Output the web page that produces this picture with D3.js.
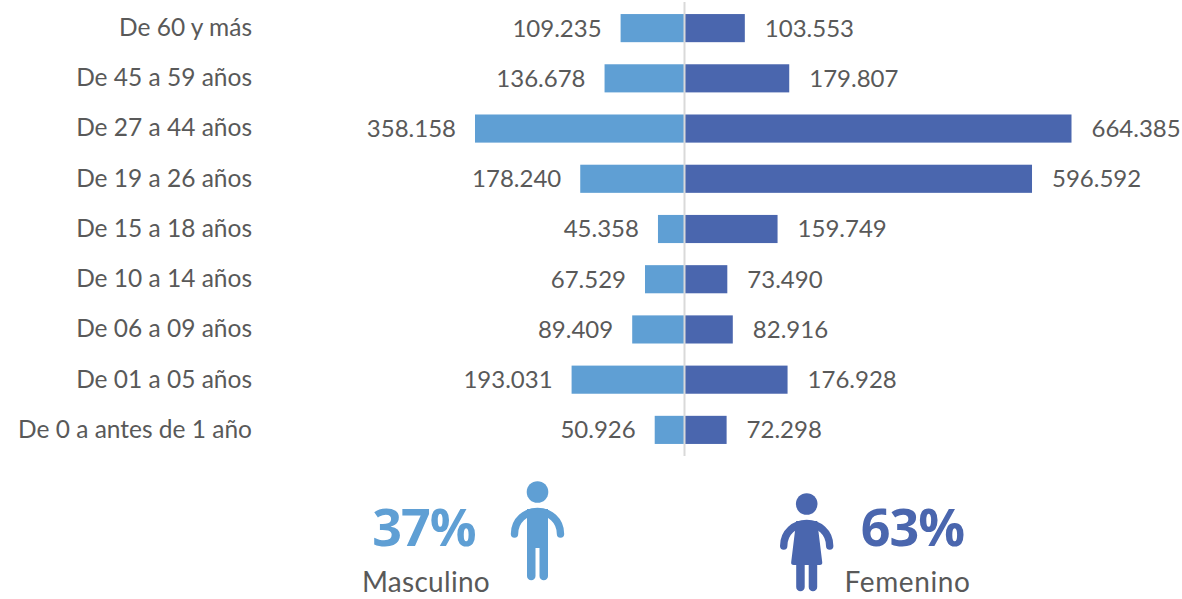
<!DOCTYPE html>
<html>
<head>
<meta charset="utf-8">
<script src="https://cdn.jsdelivr.net/npm/d3@7"></script>
<style>
  html, body { margin: 0; padding: 0; background: #fff; }
  svg { display: block; }
  text { font-family: Lato, sans-serif; }
</style>
</head>
<body>
<svg id="chart" width="1182" height="599"></svg>
<script>
/*************************Data********************* */
const ageGroups = ["De 60 y más", "De 45 a 59 años", "De 27 a 44 años", "De 19 a 26 años", "De 15 a 18 años", "De 10 a 14 años", "De 06 a 09 años", "De 01 a 05 años", "De 0 a antes de 1 año"];
const male = [109235, 136678, 358158, 178240, 45358, 67529, 89409, 193031, 50926];
const female = [103553, 179807, 664385, 596592, 159749, 73490, 82916, 176928, 72298];
const genderLabels = ["Masculino", "Femenino"];
const genderShares = ["37%", "63%"];

const maleColor = "#5f9fd4";
const femaleColor = "#4a66ae";
const textColor = "#595959";

/*************************Scales********************* */
const centerX = 684.5;
const svg = d3.select("svg#chart");
const scaleY = d3.scaleBand().domain(ageGroups).range([3, 455]).paddingInner(0.44).paddingOuter(0.22);
const scaleMale = d3.scaleLinear().domain([0, 358158]).range([centerX, 475]);
const scaleFemale = d3.scaleLinear().domain([0, 664385]).range([centerX, 1071.5]);
const fmt = (d) => d3.format(",")(d).replace(/,/g, ".");
const rowMid = (d) => scaleY(d) + scaleY.bandwidth() / 2;

/*************************Axis labels********************* */
const yAxis = d3.axisLeft(scaleY).tickSize(0).tickPadding(0);
svg.append("g")
  .attr("class", "y-axis")
  .attr("transform", "translate(252,0)")
  .call(yAxis)
  .call((g) => g.select(".domain").remove())
  .selectAll("text")
  .attr("fill", textColor)
  .style("font-size", "24.5px")
  .style("font-family", "Lato, sans-serif");

/*************************Bars********************* */
svg.append("g").selectAll("rect")
  .data(ageGroups)
  .join("rect")
  .attr("x", (_, i) => scaleMale(male[i]))
  .attr("y", (d) => scaleY(d))
  .attr("width", (_, i) => centerX - scaleMale(male[i]))
  .attr("height", scaleY.bandwidth())
  .attr("fill", maleColor);

svg.append("g").selectAll("rect")
  .data(ageGroups)
  .join("rect")
  .attr("x", centerX)
  .attr("y", (d) => scaleY(d))
  .attr("width", (_, i) => scaleFemale(female[i]) - centerX)
  .attr("height", scaleY.bandwidth())
  .attr("fill", femaleColor);

// center line
svg.append("line")
  .attr("x1", centerX).attr("x2", centerX)
  .attr("y1", 2).attr("y2", 456)
  .attr("stroke", "#d9d9d9")
  .attr("stroke-width", 2);

/*************************Value labels********************* */
svg.append("g").selectAll("text")
  .data(ageGroups)
  .join("text")
  .text((_, i) => fmt(male[i]))
  .attr("x", (_, i) => scaleMale(male[i]) - 19)
  .attr("y", rowMid)
  .attr("dy", "0.35em")
  .attr("text-anchor", "end")
  .attr("fill", textColor)
  .style("font-size", "24px");

svg.append("g").selectAll("text")
  .data(ageGroups)
  .join("text")
  .text((_, i) => fmt(female[i]))
  .attr("x", (_, i) => scaleFemale(female[i]) + 20)
  .attr("y", rowMid)
  .attr("dy", "0.35em")
  .attr("fill", textColor)
  .style("font-size", "24px");

/*************************Gender summary********************* */
const shareText = (x, y, txt, color) => svg.append("text").text(txt)
  .attr("x", x).attr("y", y)
  .attr("text-anchor", "middle")
  .attr("fill", color)
  .style("font-size", "52px")
  .style("letter-spacing", "-1px")
  .style("font-weight", "bold")
  .style("font-family", "'Open Sans', sans-serif");
shareText(424, 546, genderShares[0], maleColor);
shareText(912.5, 546, genderShares[1], femaleColor);

const nameText = (x, y, txt, spacing) => svg.append("text").text(txt)
  .attr("x", x).attr("y", y)
  .attr("text-anchor", "middle")
  .attr("fill", textColor)
  .style("font-size", "28px")
  .style("letter-spacing", spacing);
nameText(426, 592, genderLabels[0], "0.3px");
nameText(907.5, 592, genderLabels[1], "0.6px");

/*************************Person icons********************* */
const arms = "M-23,42 C-23,28 -12,19.5 0,19.5 C12,19.5 23,28 23,42";
const man = svg.append("g").attr("transform", "translate(537.5,492)").attr("fill", maleColor);
man.append("circle").attr("r", 10.8);
man.append("path").attr("d", arms).attr("fill", "none").attr("stroke", maleColor).attr("stroke-width", 7.4).attr("stroke-linecap", "round");
man.append("path").attr("d", "M-10.5,17 H10.5 V84 A4,4 0 0 1 2,84 V56 H-2 V84 A4,4 0 0 1 -10.5,84 Z");

const woman = svg.append("g").attr("transform", "translate(806.7,504)").attr("fill", femaleColor);
woman.append("circle").attr("r", 10.8);
woman.append("path").attr("d", arms).attr("fill", "none").attr("stroke", femaleColor).attr("stroke-width", 7.4).attr("stroke-linecap", "round");
woman.append("path").attr("d", "M-10.5,17 H10.5 L15.5,58 Q16,61 13,61 H10.5 V83 A4,4 0 0 1 2,83 V61 H-2 V83 A4,4 0 0 1 -10.5,83 V61 H-13 Q-16,61 -15.5,58 Z");
</script>
</body>
</html>
